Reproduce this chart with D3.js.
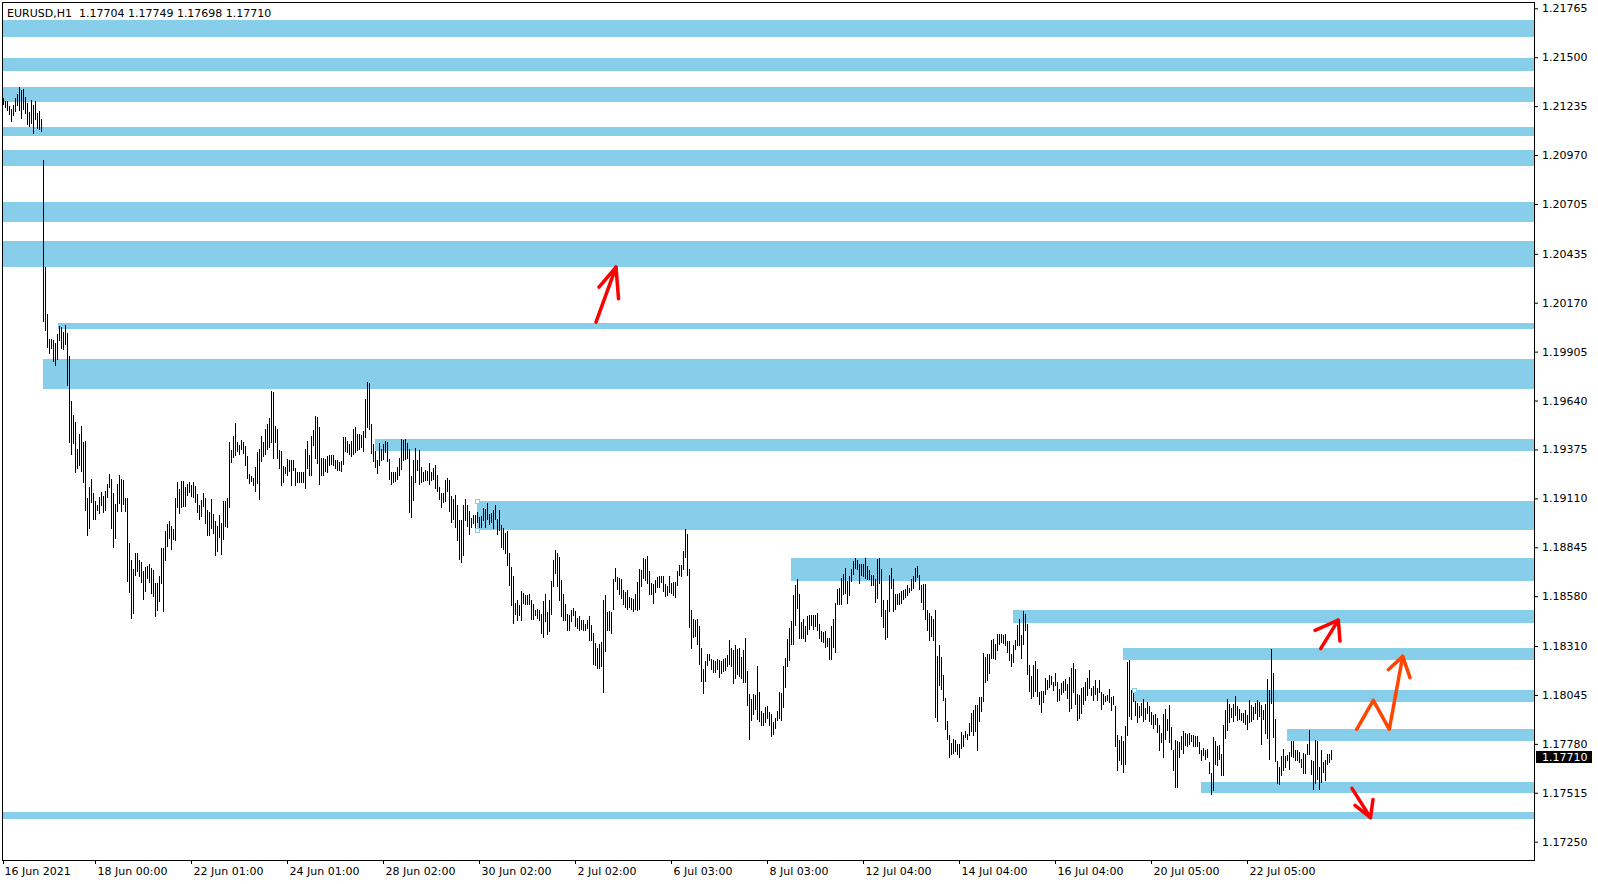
<!DOCTYPE html>
<html><head><meta charset="utf-8">
<script src="https://cdn.jsdelivr.net/npm/d3@7"></script>
<style>body{margin:0;background:#fff;overflow:hidden}svg{display:block}</style>
</head><body>
<svg id="chart" width="1598" height="884"></svg>
<script>
const symbolTitle = "EURUSD,H1  1.17704 1.17749 1.17698 1.17710";
const lastPrice = 1.17710;

const highs = [
1.21281,1.21262,1.21262,1.21234,1.21221,1.21243,1.21281,1.21300,1.21338,1.21323,
1.21329,1.21285,1.21253,1.21201,1.21268,1.21240,1.21262,1.21196,1.21209,1.21167,
1.20943,1.20363,1.20108,1.19973,1.19975,1.19970,1.19951,1.19998,1.20042,1.20036,
1.20011,1.20051,1.20008,1.19884,1.19637,1.19561,1.19523,1.19377,1.19460,1.19502,
1.19415,1.19422,1.19110,1.19171,1.19213,1.19137,1.19095,1.19076,1.19120,1.19143,
1.19124,1.19149,1.19190,1.19242,1.19213,1.19137,1.19080,1.19186,1.19236,1.19213,
1.19209,1.19114,1.19110,1.18867,1.18776,1.18728,1.18814,1.18814,1.18776,1.18768,
1.18719,1.18738,1.18743,1.18757,1.18734,1.18724,1.18654,1.18649,1.18690,1.18842,
1.18842,1.18934,1.18970,1.18989,1.18958,1.18943,1.19110,1.19200,1.19162,1.19204,
1.19204,1.19171,1.19186,1.19196,1.19184,1.19196,1.19177,1.19133,1.19076,1.19101,
1.19141,1.19114,1.19046,1.19034,1.19105,1.19025,1.18985,1.18958,1.19019,1.18975,
1.19095,1.19095,1.19110,1.19415,1.19371,1.19447,1.19517,1.19415,1.19399,1.19426,
1.19415,1.19394,1.19342,1.19244,1.19232,1.19219,1.19280,1.19361,1.19380,1.19447,
1.19415,
1.19488,1.19515,1.19543,1.19693,1.19687,1.19501,1.19488,1.19371,1.19366,1.19284,
1.19281,1.19326,1.19317,1.19320,1.19317,1.19277,1.19253,1.19253,1.19253,1.19253,
1.19376,1.19420,1.19344,1.19447,1.19483,1.19555,1.19552,1.19494,1.19331,1.19331,
1.19326,1.19338,1.19344,1.19344,1.19344,1.19317,1.19317,1.19308,1.19313,1.19443,
1.19440,1.19420,1.19407,1.19420,1.19485,1.19497,1.19458,1.19461,1.19452,1.19476,
1.19647,1.19740,1.19734,1.19515,1.19403,1.19366,1.19317,1.19411,1.19376,1.19402,
1.19420,1.19416,1.19326,1.19253,1.19253,1.19253,1.19281,1.19329,1.19434,1.19425,
1.19431,1.19411,1.19380,1.19230,1.19320,1.19385,1.19320,1.19371,1.19281,1.19253,
1.19262,1.19257,1.19302,1.19253,1.19275,1.19290,1.19239,1.19169,1.19140,1.19141,
1.19208,1.19221,1.19208,1.19122,1.19109,1.19127,1.19073,1.18991,1.18991,1.19073,
1.19104,1.19073,1.19042,1.19006,1.19019,1.19022,1.19037,1.19010,1.19013,1.19058,
1.19055,1.19085,1.19028,1.19031,1.19049,1.19073,1.19000,1.19046,1.18968,1.18952,
1.18923,1.18932,1.18814,1.18738,1.18688,1.18543,1.18561,1.18531,1.18608,1.18598,
1.18585,1.18585,1.18594,1.18558,1.18536,1.18507,1.18509,1.18504,1.18482,1.18554,
1.18590,1.18495,1.18558,1.18661,1.18775,1.18833,1.18815,1.18793,1.18670,1.18590,
1.18536,1.18482,1.18477,1.18504,1.18518,1.18498,1.18462,1.18471,1.18453,1.18449,
1.18428,1.18453,1.18471,1.18422,1.18383,1.18327,1.18300,1.18319,1.18332,1.18561,
1.18585,1.18495,1.18500,1.18495,1.18672,1.18735,1.18684,1.18681,1.18672,1.18612,
1.18603,1.18616,1.18576,1.18572,1.18567,1.18590,1.18657,1.18726,1.18724,1.18789,
1.18784,1.18796,1.18715,1.18652,1.18645,1.18666,1.18684,1.18688,1.18688,1.18688,
1.18645,1.18634,1.18688,1.18652,1.18657,1.18657,1.18717,1.18748,1.18748,1.18823,
1.18943,1.18916,1.18730,1.18504,1.18455,1.18453,1.18455,1.18417,1.18300,1.18187,
1.18227,1.18265,1.18269,1.18242,1.18236,1.18227,1.18242,1.18236,1.18229,1.18242,
1.18245,1.18260,1.18341,1.18300,1.18287,1.18314,1.18296,1.18301,1.18251,1.18291,
1.18354,1.18175,1.18052,1.18025,1.18052,1.18043,1.18200,1.18061,1.17958,1.17949,
1.17980,1.17983,1.17953,1.17944,1.17898,1.17922,1.17956,1.18061,1.18056,1.18202,
1.18245,1.18347,1.18408,1.18444,1.18585,1.18639,1.18672,1.18590,1.18440,1.18455,
1.18419,1.18473,1.18477,1.18480,1.18480,1.18477,1.18491,1.18431,1.18390,1.18386,
1.18390,1.18354,1.18354,1.18419,1.18455,1.18545,1.18621,1.18627,1.18679,1.18699,
1.18735,1.18663,1.18688,1.18730,1.18769,1.18789,1.18775,1.18757,1.18753,1.18753,
1.18789,1.18742,1.18721,1.18697,1.18693,1.18672,1.18780,1.18789,1.18726,1.18558,
1.18504,1.18558,1.18693,1.18735,1.18672,1.18594,1.18594,1.18599,1.18607,1.18612,
1.18621,1.18643,1.18625,1.18675,1.18688,1.18735,1.18742,1.18697,1.18639,1.18645,
1.18645,1.18504,1.18491,1.18473,1.18459,1.18504,1.18256,1.18318,1.18251,1.18151,
1.18030,1.17902,1.17830,1.17786,1.17808,1.17799,1.17781,1.17777,1.17844,1.17830,
1.17848,1.17835,1.17895,1.17949,1.17962,1.17989,1.17992,1.18034,1.18034,1.18272,
1.18251,1.18269,1.18269,1.18341,1.18347,1.18323,1.18374,1.18377,1.18377,1.18372,
1.18377,1.18336,1.18336,1.18265,1.18318,1.18345,1.18426,1.18455,1.18368,1.18498,
1.18486,1.18431,1.18209,1.18148,1.18206,1.18227,1.18187,1.18061,1.18065,1.18065,
1.18139,1.18128,1.18151,1.18146,1.18115,1.18164,1.18115,1.18079,1.18110,1.18121,
1.18130,1.18103,1.18142,1.18193,1.18218,1.18188,1.18048,1.18043,1.18085,1.18088,
1.18115,1.18139,1.18179,1.18085,1.18092,1.18128,1.18085,1.18128,1.18061,1.18048,
1.18039,1.18043,1.18079,1.18034,1.18038,1.17983,1.17826,1.17799,1.17821,1.17795,
1.17875,1.18224,1.18236,1.18074,1.18066,1.18010,1.18001,1.17983,1.18001,1.18021,
1.17976,1.18007,1.17983,1.17953,1.17938,1.17944,1.17922,1.17880,1.17839,1.17940,
1.17971,1.17917,1.17989,1.17871,1.17748,1.17799,1.17795,1.17790,1.17821,1.17850,
1.17839,1.17832,1.17839,1.17826,1.17826,1.17823,1.17821,1.17790,1.17748,1.17759,
1.17748,1.17754,1.17682,1.17622,1.17817,1.17795,1.17768,1.17772,1.17727,1.17880,
1.17965,1.18025,1.17994,1.17976,1.17998,1.18038,1.17983,1.17971,1.17947,1.17947,
1.17962,1.17935,1.18016,1.17989,1.17980,1.18001,1.18016,1.18007,1.17989,1.17965,
1.17998,1.18130,1.18074,1.18296,1.18164,1.17917,1.17687,1.17655,1.17712,1.17754,
1.17712,1.17718,1.17736,1.17795,1.17795,1.17748,1.17748,1.17736,1.17700,1.17730,
1.17723,1.17781,1.17857,1.17694,1.17687,1.17799,1.17795,1.17655,1.17748,1.17682,
1.17691,1.17727,1.17723,1.17749
];

const lows = [
1.21247,1.21228,1.21215,1.21192,1.21154,1.21186,1.21209,1.21240,1.21215,1.21171,
1.21221,1.21196,1.21139,1.21129,1.21144,1.21091,1.21167,1.21114,1.21110,1.21101,
1.20072,1.20023,1.19932,1.19899,1.19922,1.19856,1.19831,1.19865,1.19970,1.19926,
1.19920,1.19947,1.19726,1.19418,1.19352,1.19409,1.19251,1.19276,1.19289,1.19261,
1.19200,1.19048,1.18909,1.18947,1.19091,1.18996,1.19000,1.19048,1.19029,1.19076,
1.19038,1.19048,1.19118,1.19171,1.18947,1.18844,1.18896,1.19042,1.19086,1.19042,
1.19080,1.19042,1.18662,1.18605,1.18464,1.18491,1.18696,1.18719,1.18690,1.18658,
1.18563,1.18610,1.18681,1.18658,1.18597,1.18582,1.18472,1.18506,1.18553,1.18654,
1.18502,1.18776,1.18852,1.18896,1.18837,1.18890,1.18886,1.19061,1.19029,1.19061,
1.19067,1.19071,1.19128,1.19143,1.19124,1.19118,1.19091,1.19038,1.19000,1.19015,
1.19067,1.18977,1.18909,1.18909,1.18947,1.18924,1.18801,1.18825,1.18901,1.18810,
1.18890,1.18958,1.18953,1.19061,1.19308,1.19333,1.19346,1.19365,1.19352,1.19377,
1.19358,1.19289,1.19219,1.19194,1.19205,1.19181,1.19152,1.19194,1.19105,1.19314,
1.19339,
1.19353,1.19380,1.19389,1.19416,1.19331,1.19416,1.19331,1.19275,1.19181,1.19199,
1.19248,1.19235,1.19257,1.19181,1.19263,1.19181,1.19199,1.19199,1.19199,1.19199,
1.19167,1.19275,1.19235,1.19235,1.19398,1.19329,1.19302,1.19187,1.19235,1.19235,
1.19257,1.19252,1.19290,1.19295,1.19290,1.19275,1.19266,1.19266,1.19259,1.19295,
1.19365,1.19362,1.19353,1.19338,1.19349,1.19362,1.19371,1.19375,1.19389,1.19365,
1.19443,1.19494,1.19485,1.19357,1.19313,1.19281,1.19248,1.19290,1.19317,1.19326,
1.19362,1.19313,1.19214,1.19187,1.19199,1.19205,1.19214,1.19235,1.19268,1.19320,
1.19326,1.19331,1.19037,1.19010,1.19100,1.19199,1.19263,1.19190,1.19199,1.19205,
1.19208,1.19208,1.19190,1.19212,1.19217,1.19167,1.19150,1.19109,1.19064,1.19091,
1.19094,1.19150,1.19042,1.18982,1.19000,1.18955,1.18883,1.18784,1.18766,1.18802,
1.18991,1.18959,1.18919,1.18955,1.18977,1.18952,1.18982,1.18952,1.18955,1.18991,
1.18955,1.19000,1.18973,1.18981,1.18950,1.19000,1.18919,1.18937,1.18847,1.18838,
1.18814,1.18748,1.18639,1.18531,1.18435,1.18482,1.18453,1.18476,1.18450,1.18543,
1.18540,1.18540,1.18536,1.18455,1.18459,1.18477,1.18462,1.18450,1.18381,1.18359,
1.18446,1.18374,1.18390,1.18482,1.18634,1.18706,1.18634,1.18561,1.18471,1.18453,
1.18453,1.18395,1.18395,1.18446,1.18477,1.18417,1.18410,1.18395,1.18401,1.18395,
1.18399,1.18410,1.18341,1.18341,1.18211,1.18206,1.18193,1.18193,1.18200,1.18061,
1.18283,1.18395,1.18395,1.18381,1.18513,1.18663,1.18618,1.18594,1.18572,1.18536,
1.18522,1.18509,1.18522,1.18509,1.18500,1.18513,1.18507,1.18509,1.18634,1.18681,
1.18670,1.18652,1.18594,1.18590,1.18543,1.18603,1.18630,1.18630,1.18657,1.18607,
1.18581,1.18589,1.18603,1.18598,1.18585,1.18576,1.18643,1.18693,1.18688,1.18726,
1.18793,1.18693,1.18413,1.18300,1.18359,1.18363,1.18319,1.18211,1.18121,1.18056,
1.18119,1.18206,1.18233,1.18187,1.18169,1.18169,1.18187,1.18142,1.18166,1.18173,
1.18182,1.18202,1.18211,1.18200,1.18110,1.18139,1.18157,1.18146,1.18139,1.18115,
1.18115,1.17989,1.17808,1.17907,1.17940,1.17971,1.17916,1.17904,1.17880,1.17884,
1.17898,1.17922,1.17884,1.17821,1.17835,1.17868,1.17907,1.17922,1.17911,1.17980,
1.18088,1.18202,1.18233,1.18323,1.18323,1.18426,1.18516,1.18354,1.18354,1.18354,
1.18336,1.18377,1.18401,1.18422,1.18404,1.18417,1.18395,1.18354,1.18336,1.18332,
1.18305,1.18310,1.18238,1.18238,1.18305,1.18278,1.18536,1.18540,1.18540,1.18590,
1.18599,1.18543,1.18585,1.18663,1.18702,1.18733,1.18730,1.18652,1.18697,1.18688,
1.18681,1.18675,1.18672,1.18639,1.18639,1.18549,1.18571,1.18652,1.18473,1.18413,
1.18347,1.18359,1.18498,1.18625,1.18498,1.18509,1.18540,1.18540,1.18543,1.18563,
1.18576,1.18585,1.18603,1.18612,1.18625,1.18663,1.18684,1.18618,1.18549,1.18513,
1.18455,1.18395,1.18341,1.18365,1.18341,1.17926,1.17902,1.18101,1.18075,1.18016,
1.17859,1.17804,1.17709,1.17727,1.17732,1.17739,1.17727,1.17709,1.17758,1.17768,
1.17817,1.17804,1.17826,1.17848,1.17826,1.17848,1.17745,1.17902,1.17956,1.18010,
1.18115,1.18124,1.18164,1.18245,1.18245,1.18242,1.18287,1.18323,1.18332,1.18327,
1.18314,1.18278,1.18233,1.18202,1.18224,1.18296,1.18314,1.18318,1.18245,1.18323,
1.18395,1.18160,1.18065,1.18028,1.18039,1.18065,1.18039,1.17998,1.17953,1.18007,
1.18048,1.18079,1.18088,1.18106,1.18070,1.18097,1.18012,1.18020,1.18048,1.18061,
1.18070,1.18029,1.17958,1.17976,1.18061,1.17994,1.17911,1.17922,1.17947,1.17994,
1.18020,1.18043,1.18085,1.18047,1.18020,1.18048,1.18020,1.18061,1.17971,1.17994,
1.18012,1.18016,1.18007,1.17962,1.17994,1.17767,1.17640,1.17694,1.17669,1.17627,
1.17669,1.17826,1.17929,1.17917,1.18012,1.17935,1.17898,1.17926,1.17938,1.17904,
1.17917,1.17947,1.17904,1.17886,1.17868,1.17889,1.17844,1.17745,1.17790,1.17709,
1.17808,1.17853,1.17790,1.17754,1.17640,1.17546,1.17546,1.17709,1.17754,1.17730,
1.17772,1.17767,1.17777,1.17795,1.17767,1.17767,1.17768,1.17730,1.17694,1.17718,
1.17700,1.17709,1.17622,1.17510,1.17532,1.17673,1.17664,1.17700,1.17613,1.17613,
1.17814,1.17853,1.17898,1.17926,1.17904,1.17935,1.17908,1.17917,1.17908,1.17898,
1.17886,1.17862,1.17898,1.17904,1.17917,1.17947,1.17917,1.17929,1.17777,1.17917,
1.17839,1.17814,1.17700,1.18001,1.17817,1.17687,1.17568,1.17564,1.17609,1.17640,
1.17655,1.17691,1.17645,1.17712,1.17709,1.17694,1.17694,1.17682,1.17655,1.17622,
1.17622,1.17727,1.17727,1.17615,1.17537,1.17568,1.17591,1.17537,1.17573,1.17627,
1.17582,1.17673,1.17682,1.17698
];

const timeTickBars = [0,48,96,144,192,240,288,336,384,432,480,528,576,624];
const timeTickLabels = ["16 Jun 2021","18 Jun 00:00","22 Jun 01:00","24 Jun 01:00","28 Jun 02:00","30 Jun 02:00","2 Jul 02:00","6 Jul 03:00","8 Jul 03:00","12 Jul 04:00","14 Jul 04:00","16 Jul 04:00","20 Jul 05:00","22 Jul 05:00"];
const priceTicks = [1.17250,1.17515,1.17780,1.18045,1.18310,1.18580,1.18845,1.19110,1.19375,1.19640,1.19905,1.20170,1.20435,1.20705,1.20970,1.21235,1.21500,1.21765];
const priceTickLabels = ["1.17250","1.17515","1.17780","1.18045","1.18310","1.18580","1.18845","1.19110","1.19375","1.19640","1.19905","1.20170","1.20435","1.20705","1.20970","1.21235","1.21500","1.21765"];

// zones: top price, bottom price, start bar (null = from the left edge)
const zoneTop    = [1.21702,1.21497,1.21338,1.21122,1.20997,1.20715,1.20505,1.20061,1.19864,1.19429,1.19095,1.18786,1.18504,1.18298,1.18070,1.17859,1.17572,1.17409];
const zoneBottom = [1.21611,1.21425,1.21259,1.21075,1.20912,1.20608,1.20365,1.20028,1.19700,1.19367,1.18939,1.18663,1.18435,1.18234,1.18007,1.17796,1.17514,1.17373];
const zoneStart  = [null,null,null,null,null,null,null,27.5,20,186,237,394,505,560,565.5,642,599,null];
// selection handles: [zone index, corner]
const handles = [[10,"top"],[10,"bottom"],[14,"top"]];

// hand-drawn arrows in (bar, price) units
const arrows = [
  {color:"#ff0000", pts:[[296.5,1.20065],[306.5,1.20363]], head:[[298,1.20254],[306.5,1.20363],[307.75,1.20192]]},
  {color:"#ff0000", pts:[[658.85,1.18296],[667.65,1.18450]], head:[[656,1.18395],[667.65,1.18450],[668.5,1.18337]]},
  {color:"#ff4500", pts:[[676.85,1.17859],[685.15,1.18016],[693.15,1.17859],[699.85,1.18254]], head:[[692.65,1.18182],[699.85,1.18254],[703.5,1.18139]]},
  {color:"#ff0000", pts:[[674.5,1.17539],[683.75,1.17380]], head:[[676,1.17447],[683.75,1.17380],[685,1.17479]]}
];

const FONT = "DejaVu Sans";
const plot = {left:2, top:2, right:1534, bottom:860};
const svg = d3.select("#chart");

const x = d3.scaleLinear().domain([0, highs.length - 1]).range([3, 3 + 2*(highs.length - 1)]);
const y = d3.scaleLinear().domain([1.17250, 1.21765]).range([841.7, 8.3]);

svg.append("defs").append("clipPath").attr("id","plotClip")
  .append("rect").attr("x",plot.left+1).attr("y",plot.top+1)
  .attr("width",plot.right-plot.left-1).attr("height",plot.bottom-plot.top-1);

const g = svg.append("g").attr("clip-path","url(#plotClip)");

// zones
const zoneData = zoneTop.map((t,i)=>({t, b:zoneBottom[i], s:zoneStart[i]}));
g.selectAll("rect.zone").data(zoneData).join("rect").attr("class","zone")
  .attr("x", d => d.s === null ? plot.left : Math.round(x(d.s)))
  .attr("y", d => Math.round(y(d.t)))
  .attr("width", d => plot.right - (d.s === null ? plot.left : Math.round(x(d.s))))
  .attr("height", d => Math.round(y(d.b)) - Math.round(y(d.t)))
  .attr("fill", "#87ceeb").attr("shape-rendering","crispEdges");

// bars (high-low)
const bars = highs.map((h,i)=>({i, h, l:lows[i]}));
g.selectAll("rect.bar").data(bars).join("rect").attr("class","bar")
  .attr("x", d => Math.round(x(d.i)))
  .attr("y", d => Math.round(y(d.h)))
  .attr("width", 1)
  .attr("height", d => Math.max(1, Math.round(y(d.l)) - Math.round(y(d.h)) + 1))
  .attr("fill", "#000").attr("shape-rendering","crispEdges");

// selection handles
g.selectAll("rect.handle").data(handles).join("rect").attr("class","handle")
  .attr("x", d => Math.round(x(zoneStart[d[0]])) - 2)
  .attr("y", d => Math.round(y(d[1]==="top" ? zoneTop[d[0]] : zoneBottom[d[0]])) - 2)
  .attr("width", 4).attr("height", 4)
  .attr("fill","#fff").attr("stroke","#87ceeb").attr("stroke-width",1)
  .attr("shape-rendering","crispEdges");

// arrows
const line = d3.line().x(d => x(d[0])).y(d => y(d[1]));
arrows.forEach(a => {
  g.append("path").attr("d", line(a.pts)).attr("fill","none")
    .attr("stroke", a.color).attr("stroke-width", 3.5)
    .attr("stroke-linejoin","round").attr("stroke-linecap","round");
  g.append("path").attr("d", line(a.head)).attr("fill","none")
    .attr("stroke", a.color).attr("stroke-width", 3.5)
    .attr("stroke-linejoin","round").attr("stroke-linecap","round");
});

// frame
svg.append("rect").attr("x", plot.left + 0.5).attr("y", plot.top + 0.5)
  .attr("width", plot.right - plot.left).attr("height", plot.bottom - plot.top)
  .attr("fill","none").attr("stroke","#000").attr("stroke-width",1);

// price axis
const yAxis = d3.axisRight(y).tickValues(priceTicks)
  .tickFormat((d,i) => priceTickLabels[i]).tickSize(4).tickPadding(4);
const gy = svg.append("g").attr("transform", `translate(${plot.right},0)`).call(yAxis);
gy.select(".domain").remove();
gy.attr("font-family", FONT).attr("font-size", 11);
gy.selectAll("text").attr("fill","#000");
gy.selectAll("line").attr("stroke","#000");

// time axis (MT4 places the tick just left of each label)
const xAxis = d3.axisBottom(x).tickValues(timeTickBars)
  .tickFormat((d,i) => timeTickLabels[i]).tickSize(4).tickPadding(3);
const gx = svg.append("g").attr("transform", `translate(0,${plot.bottom})`).call(xAxis);
gx.select(".domain").remove();
gx.attr("font-family", FONT).attr("font-size", 11);
gx.selectAll(".tick").attr("transform", d => `translate(${Math.round(x(d)) + 0.5 - (d === 0 ? 0 : 4)},0)`);
gx.selectAll("text").attr("fill","#000").attr("text-anchor","start").attr("x", (d) => d === 0 ? 1 : 2);
gx.selectAll("line").attr("stroke","#000");

// current price label
const yp = Math.round(y(lastPrice));
svg.append("rect").attr("x", plot.right + 2).attr("y", yp - 6)
  .attr("width", 56).attr("height", 12).attr("fill","#000");
svg.append("text").attr("x", plot.right + 8).attr("y", yp).attr("dy","0.35em")
  .attr("font-family", FONT).attr("font-size", 11).attr("fill","#fff").text(d3.format(".5f")(lastPrice));

// title
svg.append("text").attr("x", 7).attr("y", 16.5)
  .attr("font-family", FONT).attr("font-size", 11).attr("fill","#000")
  .style("white-space","pre").text(symbolTitle);
</script>
</body></html>
